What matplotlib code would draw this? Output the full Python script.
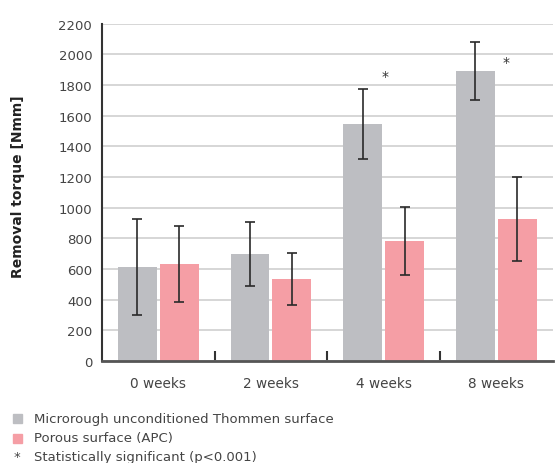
import matplotlib
matplotlib.use("Agg")
import matplotlib.pyplot as plt
import numpy as np

plt.rcParams['font.family'] = ['DejaVu Sans']

categories = ["0 weeks", "2 weeks", "4 weeks", "8 weeks"]
microrough = [610, 697, 1547, 1893]
microrough_err = [313, 210, 229, 190]
porous = [632, 534, 782, 926]
porous_err = [250, 167, 221, 276]
series_labels = ["Microrough unconditioned Thommen surface", "Porous surface (APC)"]
star_x = [2.01, 3.09]
star_y = [1860, 1952]
yticks = list(range(0, 2201, 200))

GRAY = "#bdbec2"
PINK = "#f59ea5"
TXT = "#444444"

fig = plt.figure(figsize=(5.6, 4.64), dpi=100)
ax = fig.add_axes([0.182, 0.22, 0.805, 0.727])

x = np.arange(len(categories))
w = 0.345
off = 0.186
ax.bar(x - off, microrough, w, color=GRAY, zorder=2)
ax.bar(x + off, porous, w, color=PINK, zorder=2)
ax.errorbar(x - off, microrough, yerr=microrough_err, fmt='none', ecolor='#2a2a2a',
            elinewidth=1.2, capsize=3.8, capthick=1.2, zorder=3)
ax.errorbar(x + off, porous, yerr=porous_err, fmt='none', ecolor='#2a2a2a',
            elinewidth=1.2, capsize=3.8, capthick=1.2, zorder=3)
for sx, sy in zip(star_x, star_y):
    ax.text(sx, sy, "*", ha='center', va='center', fontsize=10, color='#333333')

ax.set_xlim(-0.5, len(categories) - 0.5)
ax.set_ylim(0, 2200)
ax.set_yticks(yticks)
ax.set_yticklabels([str(v) for v in yticks], fontsize=9.5, color=TXT)
ax.yaxis.grid(True, color='#cfcfcf', linewidth=1.2, zorder=0)
ax.set_axisbelow(True)
ax.tick_params(axis='y', length=0, pad=7)

ax.set_xticks(x)
ax.set_xticklabels(categories, fontsize=9.8, color=TXT)
ax.tick_params(axis='x', length=0, pad=11)
ax.set_xticks(np.arange(0.5, len(categories) - 1, 1.0), minor=True)
ax.tick_params(axis='x', which='minor', direction='in', length=7, width=1.5, color='#333333')

for s in ['top', 'right']:
    ax.spines[s].set_visible(False)
ax.spines['left'].set_color('#333333')
ax.spines['left'].set_linewidth(1.5)
ax.spines['bottom'].set_color('#555555')
ax.spines['bottom'].set_linewidth(2)

fig.text(0.032, 0.597, "Removal torque [Nmm]", rotation=90, ha='center', va='center',
         fontsize=10, fontweight='bold', color='#222222')

# legend
leg_y = [1 - 419/464, 1 - 439/464, 1 - 458/464]
fig.patches.append(plt.Rectangle((13/560, leg_y[0] - 4.5/464), 9.5/560, 9/464,
                                 transform=fig.transFigure, color=GRAY, figure=fig))
fig.patches.append(plt.Rectangle((13/560, leg_y[1] - 4.5/464), 9.5/560, 9/464,
                                 transform=fig.transFigure, color=PINK, figure=fig))
fig.text(34/560, leg_y[0], series_labels[0], fontsize=9.5, color=TXT, va='center')
fig.text(34/560, leg_y[1], series_labels[1], fontsize=9.5, color=TXT, va='center')
fig.text(17/560, leg_y[2], "*", fontsize=9.5, color=TXT, va='center', ha='center')
fig.text(34/560, leg_y[2], "Statistically significant (p<0.001)", fontsize=9.5, color=TXT, va='center')

fig.savefig("out.png", dpi=100)
